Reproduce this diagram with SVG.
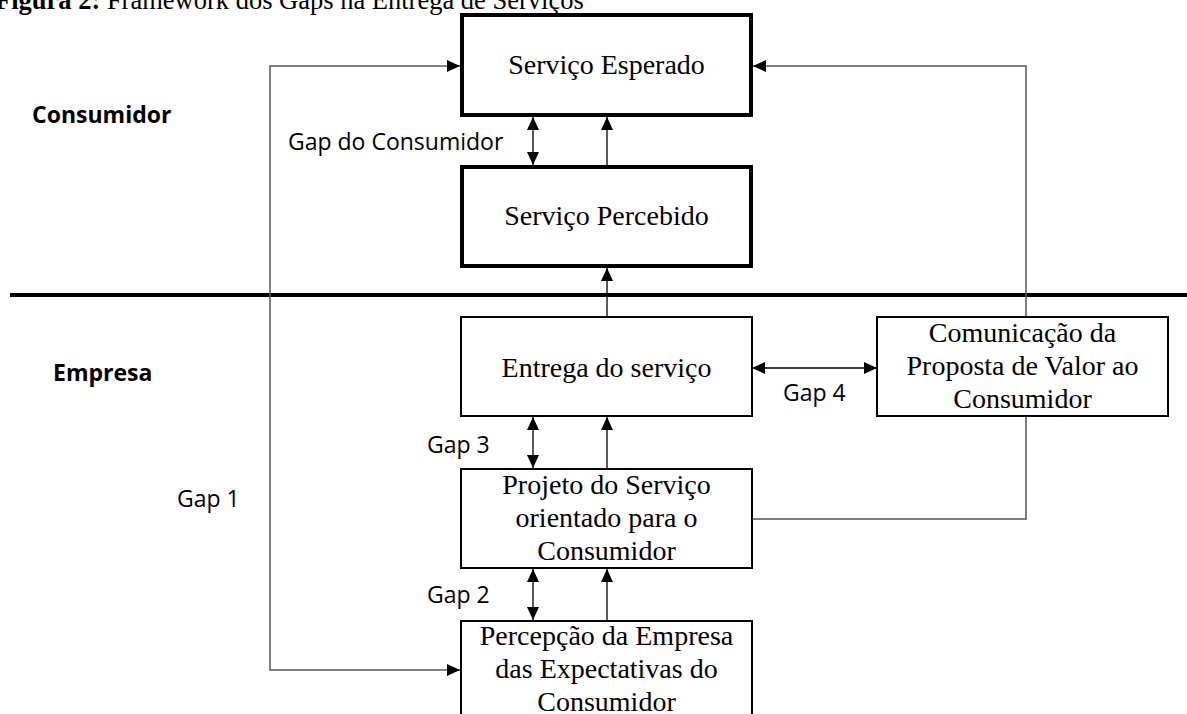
<svg xmlns="http://www.w3.org/2000/svg" width="1187" height="714" viewBox="0 0 1187 714">
  <style>
    .serif { font-family: "Liberation Serif", "Times New Roman", serif; font-size: 28px; fill: #000; }
    .sans { font-family: "Open Sans", "Noto Sans", sans-serif; font-size: 23px; fill: #000; }
    .bold { font-weight: bold; }
    .thick { fill: #fff; stroke: #000; stroke-width: 4; }
    .thin { fill: #fff; stroke: #000; stroke-width: 2; }
    .conn { fill: none; stroke: #000; stroke-width: 1.3; }
    .loop { fill: none; stroke: #555; stroke-width: 1.5; }
  </style>
  <defs>
    <marker id="ah" markerUnits="userSpaceOnUse" markerWidth="14" markerHeight="12" refX="13" refY="6" orient="auto-start-reverse">
      <path d="M0,0 L13,6 L0,12 Z" fill="#000"/>
    </marker>
  </defs>

  <rect width="1187" height="714" fill="#fff"/>

  <text x="-5" y="9" class="serif" style="font-size:26.5px"><tspan font-weight="bold">Figura 2:</tspan> Framework dos Gaps na Entrega de Serviços</text>

  <text x="32" y="123" class="sans bold">Consumidor</text>
  <text x="53" y="381" class="sans bold">Empresa</text>

  <line x1="10" y1="295" x2="1187" y2="295" stroke="#000" stroke-width="4"/>

  <g id="connectors">
    <path class="loop" d="M460,66 L270,66 L270,670 L460,670" marker-start="url(#ah)" marker-end="url(#ah)"/>
    <path class="loop" d="M752,519 L1026,519 L1026,66 L753,66" marker-end="url(#ah)"/>
    <line class="conn" x1="533" y1="165" x2="533" y2="117" marker-start="url(#ah)" marker-end="url(#ah)"/>
    <line class="conn" x1="607" y1="165" x2="607" y2="117" marker-end="url(#ah)"/>
    <line class="conn" x1="607" y1="317" x2="607" y2="268" marker-end="url(#ah)"/>
    <line class="conn" x1="533" y1="468" x2="533" y2="417" marker-start="url(#ah)" marker-end="url(#ah)"/>
    <line class="conn" x1="607" y1="468" x2="607" y2="417" marker-end="url(#ah)"/>
    <line class="conn" x1="533" y1="620" x2="533" y2="569" marker-start="url(#ah)" marker-end="url(#ah)"/>
    <line class="conn" x1="607" y1="620" x2="607" y2="569" marker-end="url(#ah)"/>
    <line class="conn" x1="752" y1="368" x2="877" y2="368" marker-start="url(#ah)" marker-end="url(#ah)"/>
  </g>

  <text x="288" y="150" class="sans">Gap do Consumidor</text>
  <text x="427" y="453" class="sans">Gap 3</text>
  <text x="427" y="603" class="sans">Gap 2</text>
  <text x="177" y="507" class="sans">Gap 1</text>
  <text x="783" y="401" class="sans">Gap 4</text>

  <g id="servico-esperado">
    <rect class="thick" x="462" y="15" width="289" height="100"/>
    <text x="606.5" y="74" class="serif" text-anchor="middle">Serviço Esperado</text>
  </g>
  <g id="servico-percebido">
    <rect class="thick" x="462" y="167" width="289" height="99"/>
    <text x="606.5" y="225" class="serif" text-anchor="middle">Serviço Percebido</text>
  </g>
  <g id="entrega">
    <rect class="thin" x="461" y="317" width="291" height="99"/>
    <text x="606.5" y="377" class="serif" text-anchor="middle">Entrega do serviço</text>
  </g>
  <g id="comunicacao">
    <rect class="thin" x="877" y="317" width="291" height="99"/>
    <text x="1022.5" y="342" class="serif" text-anchor="middle">Comunicação da</text>
    <text x="1022.5" y="375" class="serif" text-anchor="middle">Proposta de Valor ao</text>
    <text x="1022.5" y="408" class="serif" text-anchor="middle">Consumidor</text>
  </g>
  <g id="projeto">
    <rect class="thin" x="461" y="469" width="291" height="99"/>
    <text x="606.5" y="494" class="serif" text-anchor="middle">Projeto do Serviço</text>
    <text x="606.5" y="527" class="serif" text-anchor="middle">orientado para o</text>
    <text x="606.5" y="560" class="serif" text-anchor="middle">Consumidor</text>
  </g>
  <g id="percepcao">
    <rect class="thin" x="461" y="621" width="291" height="110"/>
    <text x="606.5" y="645" class="serif" text-anchor="middle">Percepção da Empresa</text>
    <text x="606.5" y="678" class="serif" text-anchor="middle">das Expectativas do</text>
    <text x="606.5" y="711" class="serif" text-anchor="middle">Consumidor</text>
  </g>
</svg>
